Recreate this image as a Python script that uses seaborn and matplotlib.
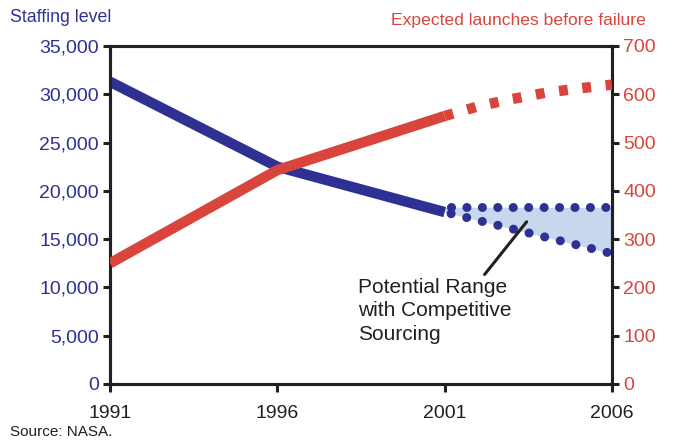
import matplotlib
matplotlib.use("Agg")
import matplotlib.pyplot as plt
import seaborn as sns
import pandas as pd

# Staffing level (solid history, then the competitive-sourcing range)
staff_years = [1991, 1996, 2001]
staff_level = [31300, 22500, 17800]
range_years = [2001, 2006]
range_upper = [18300, 18300]
range_lower = [17800, 13500]

# Expected launches before failure
launch_years = [1991, 1996, 2001]
launch_vals = [250, 443, 555]
launch_proj_years = [2001, 2002, 2003, 2004, 2005, 2006]
launch_proj_vals = [555, 575, 590, 603, 612, 620]

year_ticks = [1991, 1996, 2001, 2006]
staff_ticks = [0, 5000, 10000, 15000, 20000, 25000, 30000, 35000]
launch_ticks = [0, 100, 200, 300, 400, 500, 600, 700]

BLUE = "#2e3192"
RED = "#d9453c"
FILL = "#c6d7ee"
INK = "#231f20"

sns.set_style("ticks")
plt.rcParams["font.family"] = ["Liberation Sans", "DejaVu Sans"]

fig = plt.figure(figsize=(6.76, 4.4), dpi=100)
ax = fig.add_axes([110 / 676, 1 - 384 / 440, 502 / 676, 338 / 440])
ax2 = ax.twinx()

# Shaded range
ax.fill_between(range_years, range_lower, range_upper, color=FILL, lw=0, zorder=1)

staff_df = pd.DataFrame({"year": staff_years, "level": staff_level})
sns.lineplot(data=staff_df, x="year", y="level", ax=ax, color=BLUE, lw=7.5,
             solid_capstyle="butt", zorder=3)
# dotted bounds of the range (the lower one is a bit longer, so wider spacing)
for vals, gap in ((range_upper, 1.7), (range_lower, 1.77)):
    ax.plot(range_years, vals, color=BLUE, lw=6.5, zorder=4,
            linestyle=(1.05, (0.01, gap)), dash_capstyle="round")

launch_df = pd.DataFrame({"year": launch_years, "launches": launch_vals})
sns.lineplot(data=launch_df, x="year", y="launches", ax=ax2, color=RED, lw=7.5,
             solid_capstyle="butt", zorder=3)
proj_df = pd.DataFrame({"year": launch_proj_years, "launches": launch_proj_vals})
ax2.plot(proj_df["year"], proj_df["launches"], color=RED, lw=7.5, zorder=3,
         linestyle=(0, (0.85, 1.4)), dash_capstyle="butt")

ax.set_xlim(1991, 2006)
ax.set_ylim(0, 35000)
ax2.set_ylim(0, 700)

ax.set_xticks(year_ticks)
ax.set_xticklabels([str(y) for y in year_ticks])
ax.set_yticks(staff_ticks)
ax.set_yticklabels([f"{v:,}" for v in staff_ticks])
ax2.set_yticks(launch_ticks)
ax2.set_yticklabels([str(v) for v in launch_ticks])
ax.set_xlabel("")
ax.set_ylabel("")
ax2.set_ylabel("")

for a in (ax, ax2):
    for s in a.spines.values():
        s.set_visible(True)
        s.set_linewidth(2.2)
        s.set_color(INK)
ax.tick_params(axis="y", direction="out", length=5, width=2.2, color=INK,
               labelsize=14, labelcolor=BLUE, pad=3)
ax.tick_params(axis="x", direction="out", length=6, width=2.2, color=INK,
               labelsize=14, labelcolor=INK, pad=9)
ax2.tick_params(axis="y", direction="out", length=5, width=2.2, color=INK,
                labelsize=14, labelcolor=RED, pad=3)

fig.text(10 / 676, 1 - 17 / 440, "Staffing level", color=BLUE, fontsize=12.8,
         ha="left", va="center")
fig.text(646 / 676, 1 - 20 / 440, "Expected launches before failure", color=RED,
         fontsize=12.6, ha="right", va="center")
fig.text(10 / 676, 1 - 432 / 440, "Source: NASA.", color=INK, fontsize=11,
         ha="left", va="center")

ax.annotate("Potential Range\nwith Competitive\nSourcing",
            xy=(2003.45, 16800), xytext=(1998.4, 11000),
            fontsize=15, color=INK, ha="left", va="top", linespacing=1.3,
            arrowprops=dict(arrowstyle="-", color=INK, lw=2.2,
                            shrinkA=0, shrinkB=0, relpos=(0.81, 1.0)),
            zorder=6)

fig.savefig("out.png", dpi=100)
